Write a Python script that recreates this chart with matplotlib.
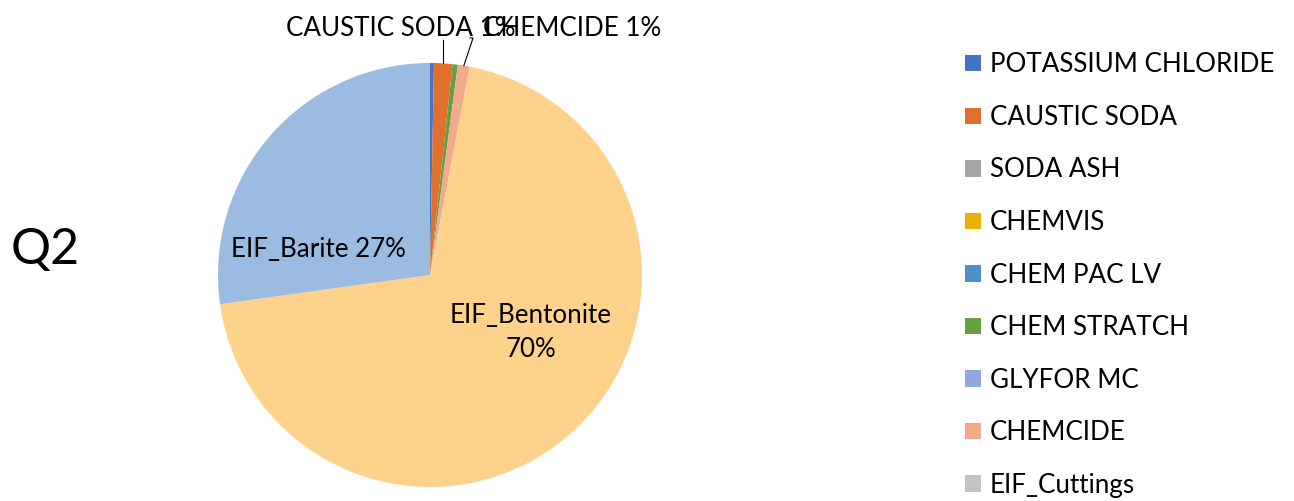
import numpy as np
import matplotlib
matplotlib.use("Agg")
import matplotlib.pyplot as plt
from matplotlib.patches import Patch

plt.rcParams['font.family'] = ['Lato', 'DejaVu Sans']

materials = ["POTASSIUM CHLORIDE", "CAUSTIC SODA", "SODA ASH", "CHEMVIS",
             "CHEM PAC LV", "CHEM STRATCH", "GLYFOR MC", "CHEMCIDE",
             "EIF_Cuttings", "EIF_Bentonite", "EIF_Barite"]
shares = [0.3, 1.4, 0.0, 0.0, 0.0, 0.4, 0.0, 0.9, 0.0, 69.8, 27.2]
colors = ["#4472C4", "#E0702C", "#A5A5A5", "#E8B000", "#4F8EC9", "#67A042",
          "#8EA9DB", "#F2AA8C", "#C3C3C3", "#FED28A", "#9BBBE1"]
legend_count = 9

W, H = 1294, 501
fig = plt.figure(figsize=(W / 100, H / 100), dpi=100)

cx, cy, r = 430, 275, 212
ax = fig.add_axes([(cx - r) / W, (H - cy - r) / H, 2 * r / W, 2 * r / H])
wedges, _ = ax.pie(shares, colors=colors, startangle=90, counterclock=False,
                   radius=1.0, wedgeprops=dict(linewidth=0))
ax.set_xlim(-1, 1)
ax.set_ylim(-1, 1)
ax.set_aspect('equal')
ax.axis('off')

fs = 18.7
total = sum(shares)


def mid_angle(i):
    start = 90 - 360 * sum(shares[:i]) / total
    return np.deg2rad(start - 180 * shares[i] / total)


def pct(i):
    return f"{round(100 * shares[i] / total):.0f}%"


# Caustic soda: label above with a vertical leader
i = materials.index("CAUSTIC SODA")
a = mid_angle(i)
ex, ey = np.cos(a), np.sin(a)
ax.plot([ex, ex], [ey, 1.11], color="black", lw=0.8, clip_on=False)
ax.text(-0.137, 1.165, f"{materials[i]} {pct(i)}", ha="center", va="center",
        fontsize=fs, clip_on=False)

# Chemcide: label above-right with a bent leader
i = materials.index("CHEMCIDE")
a = mid_angle(i)
ex, ey = np.cos(a), np.sin(a)
ax.plot([ex, 0.203, 0.189], [ey, 1.118, 1.118], color="black", lw=0.8,
        clip_on=False)
ax.text(0.67, 1.165, f"{materials[i]} {pct(i)}", ha="center", va="center",
        fontsize=fs, clip_on=False)

# Large slices labelled inside
i = materials.index("EIF_Barite")
ax.text(-0.528, 0.118, f"{materials[i]} {pct(i)}", ha="center", va="center",
        fontsize=fs)
i = materials.index("EIF_Bentonite")
ax.text(0.476, -0.27, f"{materials[i]}\n{pct(i)}", ha="center", va="center",
        fontsize=fs, linespacing=1.45)

fig.text(45 / W, 1 - 250 / H, "Q2", ha="center", va="center", fontsize=36)

handles = [Patch(facecolor=colors[k], edgecolor="none") for k in range(legend_count)]
fig.legend(handles, materials[:legend_count], loc="upper left",
           bbox_to_anchor=(955 / W, 1 - 42 / H), frameon=False,
           fontsize=fs, handlelength=0.6, handleheight=0.6,
           handletextpad=0.34, labelspacing=1.06, borderaxespad=0)

fig.savefig("out.png", dpi=100)
